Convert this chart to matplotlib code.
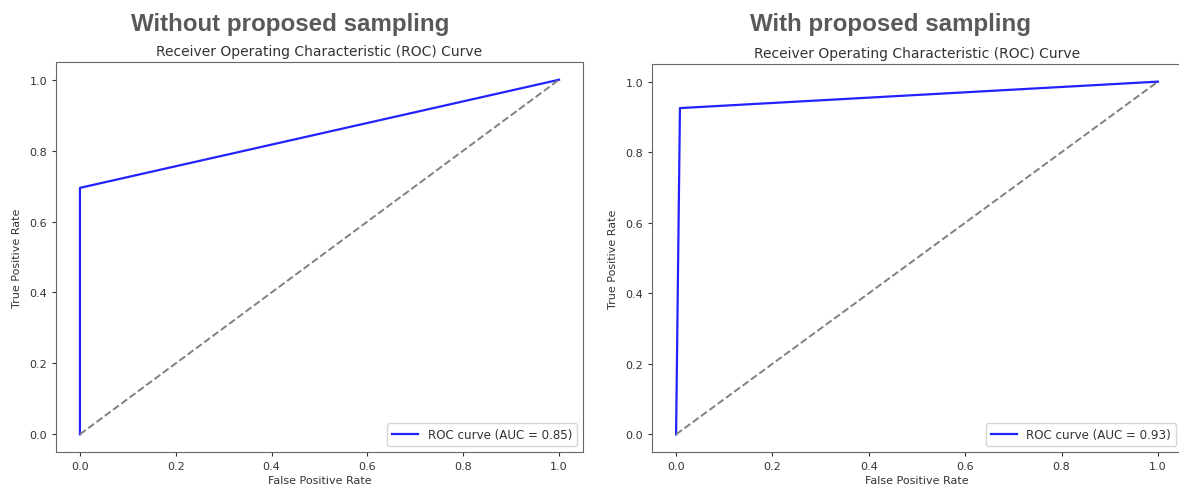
import matplotlib.pyplot as plt

# ROC points
fpr_without = [0.0, 0.0, 1.0]
tpr_without = [0.0, 0.695, 1.0]
auc_without = 0.85

fpr_with = [0.0, 0.008, 1.0]
tpr_with = [0.0, 0.925, 1.0]
auc_with = 0.93

diag = [0.0, 1.0]
ticks = [0.0, 0.2, 0.4, 0.6, 0.8, 1.0]

fig = plt.figure(figsize=(11.79, 4.89), dpi=100)
W, H = 1179, 489

# axes boxes in pixels: left, top, right, bottom
boxes = [(56, 63, 583, 453), (652, 65, 1182, 453)]
panels = [
    (fpr_without, tpr_without, auc_without, 'Without proposed sampling', 290),
    (fpr_with, tpr_with, auc_with, 'With proposed sampling', 890),
]

for (l, t, r, b), (fpr, tpr, auc, head, hx) in zip(boxes, panels):
    ax = fig.add_axes([l / W, 1 - b / H, (r - l) / W, (b - t) / H])
    ax.plot(fpr, tpr, color='#2222ff', lw=1.6, label='ROC curve (AUC = %.2f)' % auc)
    ax.plot(diag, diag, color='gray', lw=1.4, linestyle='--')
    ax.set_xlim(-0.05, 1.05)
    ax.set_ylim(-0.05, 1.05)
    ax.set_xticks(ticks)
    ax.set_yticks(ticks)
    ax.tick_params(labelsize=8, colors='#333333', length=3)
    for s in ax.spines.values():
        s.set_color('#666666')
    ax.set_xlabel('False Positive Rate', fontsize=8, color='#333333', labelpad=3)
    ax.set_ylabel('True Positive Rate', fontsize=8, color='#333333', labelpad=5)
    ax.set_title('Receiver Operating Characteristic (ROC) Curve', fontsize=10,
                 color='#333333', pad=5)
    leg = ax.legend(loc='lower right', fontsize=8.6, handlelength=2.2)
    for txt in leg.get_texts():
        txt.set_color('#333333')
    fig.text(hx / W, 1 - 24 / H, head, fontsize=17.4, fontweight='bold',
             family='Liberation Sans', color='#595959', ha='center', va='center')

fig.savefig('out.png', dpi=100)
